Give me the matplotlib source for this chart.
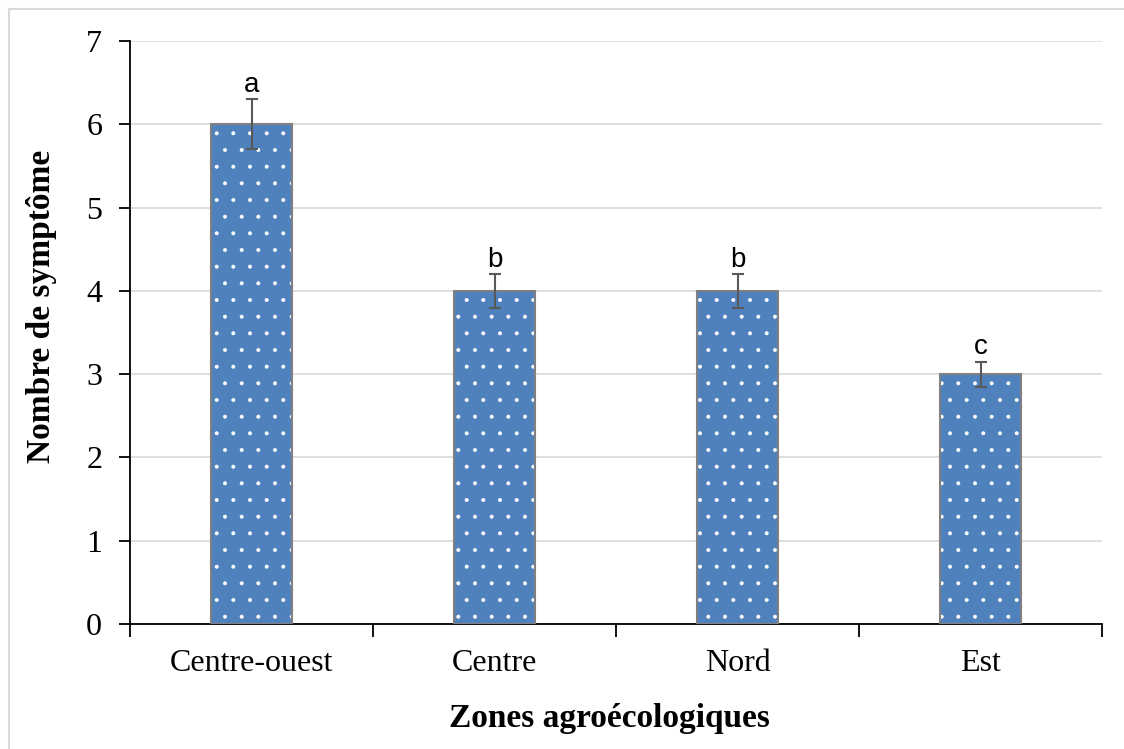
import matplotlib.pyplot as plt
import matplotlib.patches as patches

zones = ["Centre-ouest", "Centre", "Nord", "Est"]
symptomes = [6, 4, 4, 3]
erreurs = [0.3, 0.2, 0.2, 0.15]
lettres = ["a", "b", "b", "c"]

plt.rcParams['hatch.linewidth'] = 0.4

fig = plt.figure(figsize=(11.24, 7.49), dpi=100)
ax = fig.add_axes([130 / 1124, 1 - 624 / 749, 972 / 1124, 583 / 749])

x = range(len(zones))
# fill with white dot pattern, then a separate gray outline on top
ax.bar(x, symptomes, width=0.33, color="#4F81BD", edgecolor="white",
       hatch=".", linewidth=0, zorder=2)
ax.bar(x, symptomes, width=0.33, fill=False, edgecolor="#808080",
       linewidth=1.5, zorder=3)
ax.errorbar(x, symptomes, yerr=erreurs, fmt="none", ecolor="#595959",
            elinewidth=1.5, capsize=4.3, capthick=1.5, zorder=4)

for xi, v, e, t in zip(x, symptomes, erreurs, lettres):
    ax.text(xi, v + e + 0.02, t, ha="center", va="bottom",
            fontsize=20, family="Liberation Sans")

ax.set_xlim(-0.5, len(zones) - 0.5)
ax.set_ylim(0, 7)
ax.set_yticks(range(8))
ax.set_xticks(x)
ax.set_xticklabels(zones)
ax.set_xticks([i - 0.5 for i in range(len(zones) + 1)], minor=True)
ax.tick_params(axis="x", which="major", length=0, pad=18)
ax.tick_params(axis="x", which="minor", length=9, width=1.3)
ax.tick_params(axis="y", length=8, width=1.3, pad=12)
for lab in ax.get_xticklabels() + ax.get_yticklabels():
    lab.set_family("Liberation Serif")
    lab.set_fontsize(23)

ax.grid(axis="y", color="#D9D9D9", linewidth=1.2, zorder=0)
ax.set_axisbelow(True)
for s in ["top", "right"]:
    ax.spines[s].set_visible(False)
ax.spines["left"].set_linewidth(1.3)
ax.spines["bottom"].set_linewidth(1.3)

ax.set_xlabel("Zones agroécologiques", family="Liberation Serif",
              fontsize=24, fontweight="bold", va="center")
ax.set_ylabel("Nombre de symptôme", family="Liberation Serif",
              fontsize=24, fontweight="bold", va="center")
ax.xaxis.set_label_coords(0.493, -0.162)
ax.yaxis.set_label_coords(-0.091, 0.545)

# light frame around the chart area
fig.add_artist(patches.Rectangle((9 / 1124, -0.1), 1.2, 1 - 9 / 749 + 0.1,
                                 transform=fig.transFigure, fill=False,
                                 edgecolor="#D9D9D9", linewidth=1.5))

plt.savefig("out.png", dpi=100)
